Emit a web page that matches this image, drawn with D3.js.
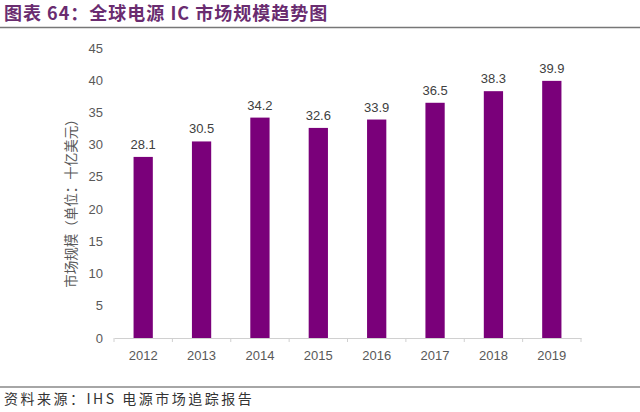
<!DOCTYPE html>
<html>
<head>
<meta charset="utf-8">
<script src="https://cdn.jsdelivr.net/npm/d3@7"></script>
<style>
  body { margin: 0; background: #fff; }
  text { font-family: Arial, "Liberation Sans", "Noto Sans CJK SC", sans-serif; }
</style>
</head>
<body>
<div id="chart"></div>
<script>
const years = ["2012", "2013", "2014", "2015", "2016", "2017", "2018", "2019"];
const values = [28.1, 30.5, 34.2, 32.6, 33.9, 36.5, 38.3, 39.9];
const yTicks = [0, 5, 10, 15, 20, 25, 30, 35, 40, 45];

const width = 640, height = 412;
const cjk = "'Noto Sans CJK SC', sans-serif";

const svg = d3.select("#chart").append("svg")
  .attr("width", width)
  .attr("height", height);

// title
svg.append("text")
  .attr("x", 4)
  .attr("y", 20)
  .style("font-family", cjk)
  .style("font-size", "18px")
  .style("font-weight", "bold")
  .style("letter-spacing", "1px")
  .style("fill", "#6a2c70")
  .text("图表 64：全球电源 IC 市场规模趋势图");

svg.append("line")
  .attr("x1", 0).attr("x2", 640)
  .attr("y1", 27.5).attr("y2", 27.5)
  .attr("stroke", "#777").attr("stroke-width", 1.5);

const x = d3.scaleBand()
  .domain(years)
  .range([114, 581]);

const y = d3.scaleLinear()
  .domain([0, 45])
  .range([338, 48]);

// y tick labels
svg.append("g")
  .selectAll("text")
  .data(yTicks)
  .enter().append("text")
  .attr("x", 103)
  .attr("y", d => y(d))
  .attr("dy", "0.35em")
  .attr("text-anchor", "end")
  .style("font-size", "13px")
  .style("fill", "#595959")
  .text(d => d);

// x axis
const xAxis = svg.append("g")
  .attr("transform", "translate(0,338)")
  .call(d3.axisBottom(x).tickSize(0).tickPadding(13));
xAxis.select(".domain").attr("stroke", "#d0d0d0");
xAxis.selectAll("text")
  .style("font-size", "13px")
  .style("fill", "#595959")
  .style("font-family", "Arial, 'Liberation Sans', sans-serif");

// category boundary ticks
svg.append("g")
  .selectAll("line")
  .data(years.concat(["end"]))
  .enter().append("line")
  .attr("x1", (d, i) => 114 + i * x.step())
  .attr("x2", (d, i) => 114 + i * x.step())
  .attr("y1", 338).attr("y2", 342)
  .attr("stroke", "#d0d0d0");

const barW = x.bandwidth() * 0.33;

svg.append("g")
  .selectAll("rect")
  .data(values)
  .enter().append("rect")
  .attr("x", (d, i) => x(years[i]) + (x.bandwidth() - barW) / 2)
  .attr("y", d => y(d))
  .attr("width", barW)
  .attr("height", d => 338 - y(d))
  .attr("fill", "#7a007a");

svg.append("g")
  .selectAll("text")
  .data(values)
  .enter().append("text")
  .attr("x", (d, i) => x(years[i]) + x.bandwidth() / 2)
  .attr("y", d => y(d) - 8)
  .attr("text-anchor", "middle")
  .style("font-size", "13px")
  .style("fill", "#404040")
  .text(d => d.toFixed(1));

// y label
svg.append("text")
  .attr("transform", "translate(76,200) rotate(-90)")
  .attr("text-anchor", "middle")
  .style("font-family", cjk)
  .style("font-size", "13.5px")
  .style("fill", "#595959")
  .text("市场规模（单位：十亿美元）");

// footer
svg.append("line")
  .attr("x1", 0).attr("x2", 640)
  .attr("y1", 387).attr("y2", 387)
  .attr("stroke", "#888").attr("stroke-width", 1.5);

svg.append("text")
  .attr("x", 4)
  .attr("y", 404)
  .style("font-family", cjk)
  .style("font-size", "14px")
  .style("letter-spacing", "2.5px")
  .style("fill", "#333")
  .text("资料来源：IHS 电源市场追踪报告");
</script>
</body>
</html>
